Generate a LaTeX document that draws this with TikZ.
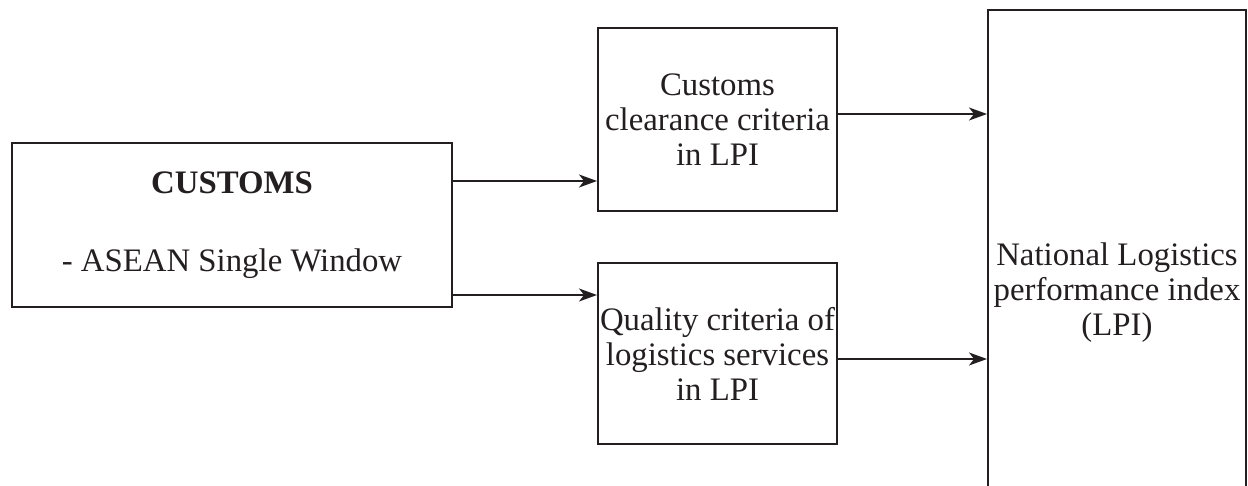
\documentclass[tikz,border=0pt]{standalone}
\usepackage{fontspec}
\setmainfont{Liberation Serif}
\usetikzlibrary{arrows.meta}
\definecolor{ink}{HTML}{231F20}
\begin{document}
\begin{tikzpicture}[x=0.5pt,y=-0.5pt,
  box/.style={draw=ink,line width=1pt,inner sep=0pt,align=center,text=ink,
    font=\fontsize{16.4pt}{17.5pt}\selectfont},
  arr/.style={draw=ink,line width=0.75pt,-{Stealth[length=9pt,width=6.5pt,inset=2.5pt]}}]
\useasboundingbox (0,0) rectangle (1248,486);
% source box on the left
\node[box,minimum width=220pt,minimum height=82pt] (cus) at (232,225)
  {\textbf{CUSTOMS}\\[21.5pt]- ASEAN Single Window};
% the two criteria boxes
\node[box,minimum width=119.5pt,minimum height=91.5pt] (cc) at (717.5,119.5)
  {Customs\\clearance criteria\\in LPI};
\node[box,minimum width=119.5pt,minimum height=90.5pt] (qc) at (717.5,353.5)
  {Quality criteria of\\logistics services\\in LPI};
% tall index box on the right, running past the lower edge
\node[box,minimum width=129pt,minimum height=283pt] (nl) at (1117,293)
  {National Logistics\\performance index\\(LPI)};
% connectors
\draw[arr] ([yshift=22pt]cus.east) -- ([yshift=22pt]cus.east -| cc.west);
\draw[arr] ([yshift=-35pt]cus.east) -- ([yshift=-35pt]cus.east -| qc.west);
\draw[arr] ([yshift=2.75pt]cc.east) -- ([yshift=2.75pt]cc.east -| nl.west);
\draw[arr] ([yshift=-2.75pt]qc.east) -- ([yshift=-2.75pt]qc.east -| nl.west);
\end{tikzpicture}
\end{document}
